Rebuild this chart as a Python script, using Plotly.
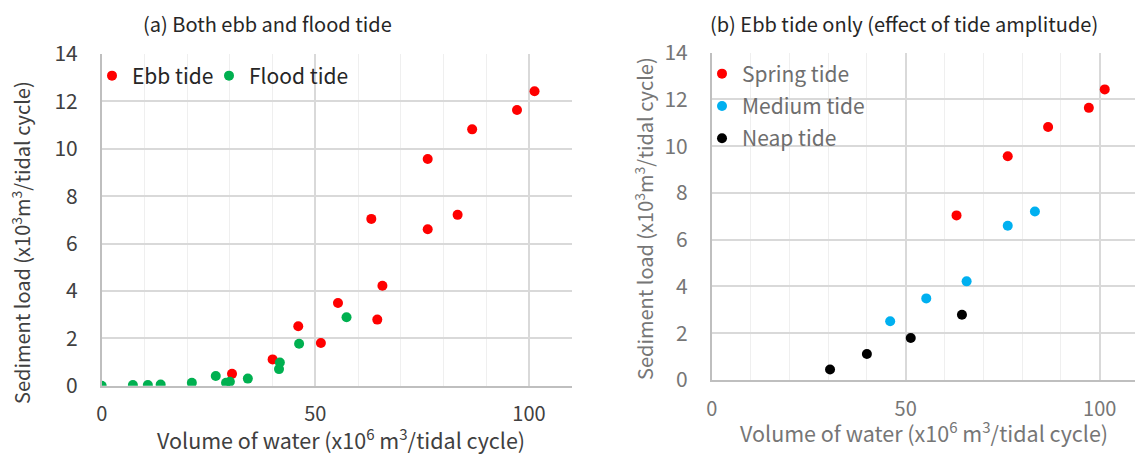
import plotly.graph_objects as go

W, H = 1135, 455
FONT = "Noto Sans CJK JP"

# ---------------- data ----------------
# (a) Both ebb and flood tide
ebb_x = [30.5, 40.0, 46.0, 51.3, 55.3, 63.1, 64.5, 65.7, 76.3, 76.3, 83.3, 86.7, 97.2, 101.3]
ebb_y = [0.50, 1.11, 2.51, 1.80, 3.49, 7.04, 2.79, 4.22, 9.57, 6.60, 7.21, 10.82, 11.64, 12.43]
flood_x = [0.0, 7.3, 10.8, 13.8, 21.1, 26.7, 29.1, 30.0, 34.2, 41.5, 41.7, 46.2, 57.3]
flood_y = [0.00, 0.03, 0.03, 0.05, 0.12, 0.41, 0.12, 0.17, 0.30, 0.70, 0.98, 1.77, 2.89]

# (b) Ebb tide only
spring_x = [63.1, 76.3, 86.7, 97.2, 101.3]
spring_y = [7.04, 9.57, 10.82, 11.64, 12.43]
medium_x = [46.0, 55.3, 65.7, 76.3, 83.3]
medium_y = [2.51, 3.49, 4.22, 6.60, 7.21]
neap_x = [30.5, 40.0, 51.3, 64.5]
neap_y = [0.45, 1.11, 1.80, 2.79]

x_ticks = [0, 50, 100]
y_ticks = [0, 2, 4, 6, 8, 10, 12, 14]

RED, GREEN, BLUE, BLACK = "#FF0000", "#00B050", "#00B0F0", "#000000"

fig = go.Figure()
fig.add_trace(go.Scatter(x=ebb_x, y=ebb_y, mode="markers", name="Ebb tide",
                         marker=dict(color=RED, size=10), xaxis="x", yaxis="y", legend="legend"))
fig.add_trace(go.Scatter(x=flood_x, y=flood_y, mode="markers", name="Flood tide",
                         marker=dict(color=GREEN, size=10), xaxis="x", yaxis="y", legend="legend3"))
fig.add_trace(go.Scatter(x=spring_x, y=spring_y, mode="markers", name="Spring tide", legendgroup="s",
                         marker=dict(color=RED, size=10), xaxis="x2", yaxis="y2", legend="legend2"))
fig.add_trace(go.Scatter(x=medium_x, y=medium_y, mode="markers", name="Medium tide", legendgroup="m",
                         marker=dict(color=BLUE, size=10), xaxis="x2", yaxis="y2", legend="legend2"))
fig.add_trace(go.Scatter(x=neap_x, y=neap_y, mode="markers", name="Neap tide", legendgroup="n",
                         marker=dict(color=BLACK, size=10), xaxis="x2", yaxis="y2", legend="legend2"))


def px_x(p):
    return p / W


def px_y(p):
    return (H - p) / H


def xaxis(domain, rng, color):
    return dict(domain=domain, range=rng, tickvals=x_ticks, showgrid=True, gridcolor="#D9D9D9",
                gridwidth=1.5, minor=dict(dtick=10, tick0=0, showgrid=True, gridcolor="#EFEFEF", gridwidth=1),
                showline=True, linecolor="#BFBFBF", linewidth=1.5, zeroline=False, ticks="",
                tickfont=dict(family=FONT, size=20, color=color), ticklabelstandoff=10,
                automargin=False, fixedrange=True)


def yaxis(domain, anchor, color):
    return dict(domain=domain, range=[0, 14], tickvals=y_ticks, showgrid=True, gridcolor="#D9D9D9",
                gridwidth=1.5, showline=True, linecolor="#BFBFBF", linewidth=1.5, zeroline=False,
                ticks="", tickfont=dict(family=FONT, size=21, color=color), ticklabelstandoff=18,
                anchor=anchor, automargin=False, fixedrange=True)


LEFT_TXT = "#404040"
RIGHT_TXT = "#767676"

leg_common = dict(xanchor="left", yanchor="middle", bgcolor="rgba(0,0,0,0)")

fig.update_layout(
    width=W, height=H, margin=dict(l=0, r=0, t=0, b=0, autoexpand=False),
    paper_bgcolor="white", plot_bgcolor="white",
    font=dict(family=FONT),
    xaxis=xaxis([px_x(101.7), px_x(571.7)], [0, 110], LEFT_TXT) | dict(anchor="y"),
    yaxis=yaxis([px_y(385.7), px_y(54)], "x", LEFT_TXT),
    xaxis2=xaxis([px_x(711.7), 1.0], [0, (W - 711.7) / 3.88], RIGHT_TXT) | dict(anchor="y2"),
    yaxis2=yaxis([px_y(380), px_y(52.7)], "x2", RIGHT_TXT),
    legend=dict(orientation="h", x=px_x(112 - 20), y=px_y(76),
                font=dict(family=FONT, size=21, color="#262626"), **leg_common),
    legend3=dict(orientation="h", x=px_x(229 - 20), y=px_y(76),
                 font=dict(family=FONT, size=21, color="#262626"), **leg_common),
    legend2=dict(orientation="v", x=px_x(722 - 20), y=px_y(106),
                 font=dict(family=FONT, size=21, color="#6E6E6E"), tracegroupgap=2, **leg_common),
    showlegend=True,
)

ann = [
    dict(text="(a) Both ebb and flood tide", x=px_x(267), y=px_y(23), size=20, color="#262626", angle=0),
    dict(text="(b) Ebb tide only (effect of tide amplitude)", x=px_x(904), y=px_y(23), size=20,
         color="#262626", angle=0),
    dict(text="Volume of water (x10<sup>6</sup> m<sup>3</sup>/tidal cycle)", x=px_x(341), y=px_y(439),
         size=21.5, color=LEFT_TXT, angle=0),
    dict(text="Volume of water (x10<sup>6</sup> m<sup>3</sup>/tidal cycle)", x=px_x(924), y=px_y(432),
         size=21.5, color=RIGHT_TXT, angle=0),
    dict(text="Sediment load (x10<sup>3</sup>m<sup>3</sup>/tidal cycle)", x=px_x(21), y=px_y(243),
         size=20, color=LEFT_TXT, angle=-90),
    dict(text="Sediment load (x10<sup>3</sup>m<sup>3</sup>/tidal cycle)", x=px_x(644), y=px_y(219),
         size=20, color=RIGHT_TXT, angle=-90),
]
for a in ann:
    fig.add_annotation(text=a["text"], x=a["x"], y=a["y"], xref="paper", yref="paper",
                       xanchor="center", yanchor="middle", showarrow=False, textangle=a["angle"],
                       font=dict(family=FONT, size=a["size"], color=a["color"]))

fig.write_html("out.html")
